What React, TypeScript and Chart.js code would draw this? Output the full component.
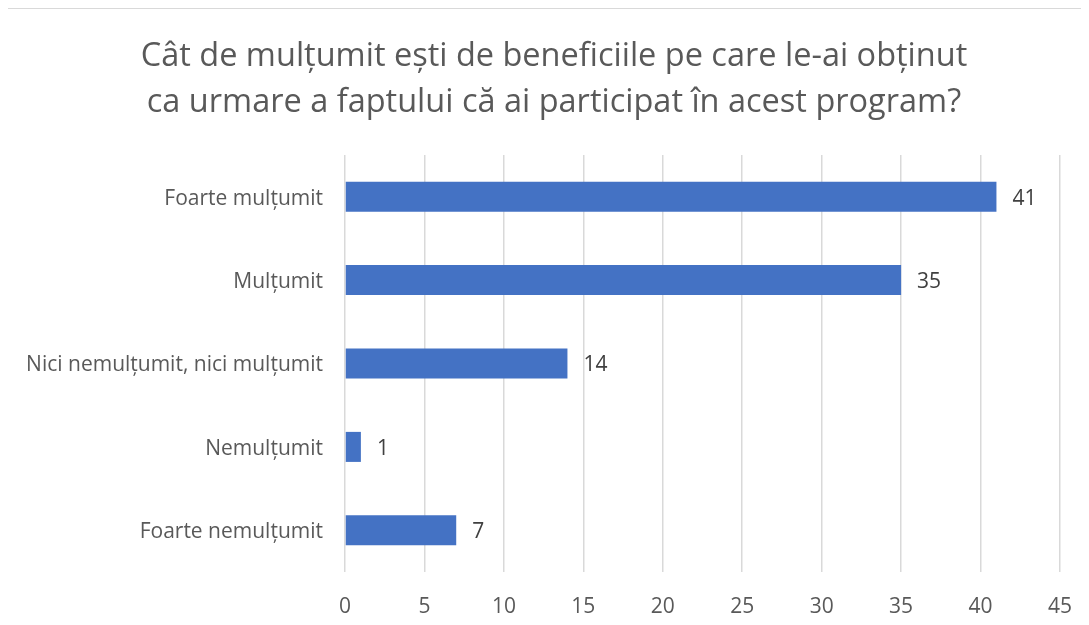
import React, { useEffect, useRef } from "react";
import { Chart, registerables } from "chart.js";

Chart.register(...registerables);

const categories = [
  "Foarte mulțumit",
  "Mulțumit",
  "Nici nemulțumit, nici mulțumit",
  "Nemulțumit",
  "Foarte nemulțumit",
];
const values = [41, 35, 14, 1, 7];
const titleLines = [
  "Cât de mulțumit ești de beneficiile pe care le-ai obținut",
  "ca urmare a faptului că ai participat în acest program?",
];
const xMin = 0;
const xMax = 45;
const xStep = 5;

const FONT = "'Open Sans', 'Noto Sans', sans-serif";

const valueLabels = {
  id: "valueLabels",
  afterDatasetsDraw(chart: any) {
    const ctx = chart.ctx;
    const meta = chart.getDatasetMeta(0);
    ctx.save();
    ctx.font = `21px ${FONT}`;
    ctx.fillStyle = "#404040";
    ctx.textAlign = "left";
    ctx.textBaseline = "middle";
    meta.data.forEach((bar: any, i: number) => {
      ctx.fillText(String(values[i]), bar.x + 16, bar.y + 2);
    });
    ctx.restore();
  },
};

export default function App() {
  const ref = useRef<HTMLCanvasElement>(null);
  useEffect(() => {
    if (!ref.current) return;
    const chart = new Chart(ref.current, {
      type: "bar",
      data: {
        labels: categories,
        datasets: [
          {
            data: values,
            backgroundColor: "#4472c4",
            borderWidth: 0,
            barPercentage: 0.36,
            categoryPercentage: 1,
          },
        ],
      },
      options: {
        indexAxis: "y",
        animation: false,
        responsive: false,
        maintainAspectRatio: false,
        layout: { padding: 0 },
        plugins: {
          legend: { display: false },
          tooltip: { enabled: false },
          title: {
            display: true,
            text: titleLines,
            color: "#595959",
            font: { family: FONT, size: 32.5, weight: "normal", lineHeight: 1.4 },
            padding: { top: 25, bottom: 30 },
          },
        },
        scales: {
          x: {
            min: xMin,
            max: xMax,
            ticks: {
              stepSize: xStep,
              color: "#595959",
              font: { family: FONT, size: 21 },
              padding: 22,
            },
            grid: { color: "#d9d9d9", lineWidth: 1.5, drawTicks: false },
            border: { display: false },
            afterFit: (s: any) => {
              s.height = 52;
            },
          },
          y: {
            ticks: {
              color: "#595959",
              font: { family: FONT, size: 21 },
              padding: 22,
              labelOffset: 2,
            },
            grid: { display: false, drawTicks: false },
            border: { display: false },
            afterFit: (s: any) => {
              s.width = 338;
            },
          },
          yRight: {
            type: "category",
            position: "right",
            labels: categories,
            ticks: { display: false },
            grid: { display: false, drawTicks: false },
            border: { display: false },
            afterFit: (s: any) => {
              s.width = 41;
            },
          },
        },
      },
      plugins: [valueLabels],
    });
    return () => chart.destroy();
  }, []);

  return (
    <div
      style={{
        position: "relative",
        marginLeft: -8,
        marginTop: -8,
        width: 1089,
        height: 625,
        overflow: "hidden",
        background: "#fff",
      }}
    >
      <div
        style={{
          position: "absolute",
          left: 5,
          top: 7,
          width: 1200,
          height: 700,
          borderLeft: "2px solid #d9d9d9",
          borderTop: "2px solid #d9d9d9",
        }}
      >
        <canvas ref={ref} width={1094} height={615} style={{ display: "block" }} />
      </div>
    </div>
  );
}
